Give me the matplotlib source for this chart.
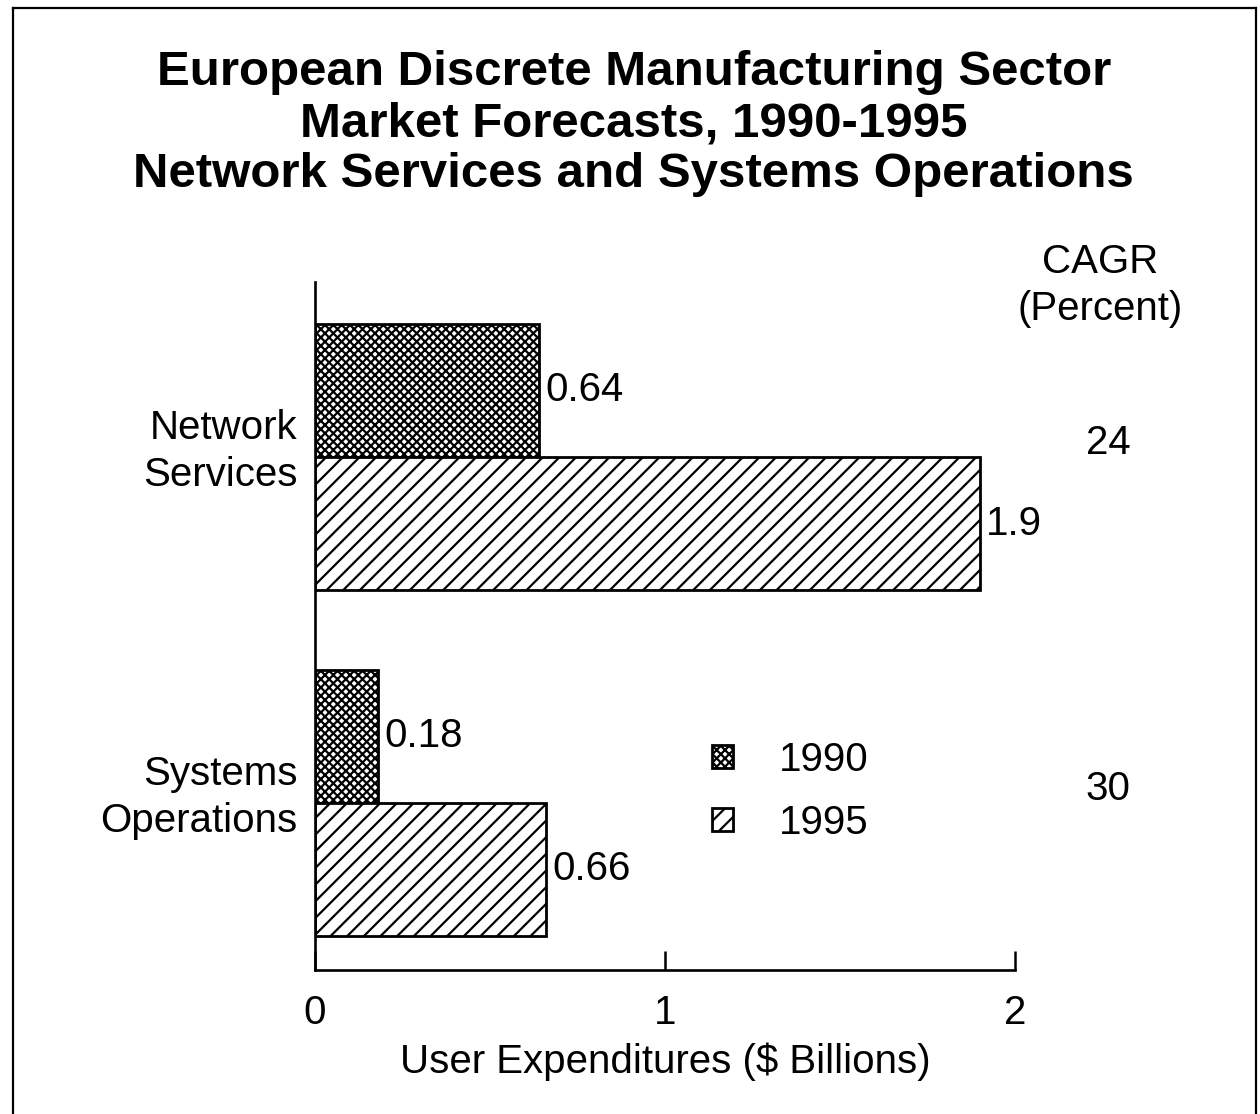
import numpy as np
import matplotlib.pyplot as plt

plt.rcParams['font.family'] = ['Liberation Sans', 'DejaVu Sans']
plt.rcParams['hatch.linewidth'] = 1.6
plt.rcParams['hatch.color'] = 'black'

# data
categories = ['Network\nServices', 'Systems\nOperations']
values_1990 = [0.64, 0.18]
values_1995 = [1.9, 0.66]
cagr = ['24', '30']
years = ['1990', '1995']

FS = 29

fig = plt.figure(figsize=(12.6, 11.14), dpi=100)
fig.patch.set_facecolor('white')

# frame round the whole chart (no bottom edge)
for xs, ys in [([0.0103, 0.0103], [0.0, 0.9928]),
               ([0.0103, 0.9968], [0.9928, 0.9928]),
               ([0.9968, 0.9968], [0.0, 0.9928])]:
    fig.add_artist(plt.Line2D(xs, ys, color='black', lw=1.6, transform=fig.transFigure))

ax = fig.add_axes([0.25, 0.1293, 0.5556, 0.6176])

y_centers = np.array([1.0, 0.0])
h = 0.385
b1 = ax.barh(y_centers + h / 2, values_1990, height=h, color='white', edgecolor='black',
             linewidth=2.0, hatch='xxxx', label=years[0])
b2 = ax.barh(y_centers - h / 2, values_1995, height=h, color='white', edgecolor='black',
             linewidth=2.0, hatch='//', label=years[1])

for y, v in zip(y_centers + h / 2, values_1990):
    ax.text(v + 0.018, y, f'{v:.2f}', va='center', ha='left', fontsize=FS)
for y, v in zip(y_centers - h / 2, values_1995):
    ax.text(v + 0.018, y, f'{v:g}' if v >= 1 else f'{v:.2f}', va='center', ha='left', fontsize=FS)

ax.set_xlim(0, 2)
ax.set_ylim(-0.483, 1.506)
ax.set_xticks([0, 1, 2])
ax.set_xticklabels(['0', '1', '2'], fontsize=FS)
ax.tick_params(axis='x', direction='in', length=14, width=1.8, pad=17)
ax.set_yticks([])
for s in ['top', 'right']:
    ax.spines[s].set_visible(False)
for s in ['left', 'bottom']:
    ax.spines[s].set_linewidth(1.9)
ax.set_xlabel('User Expenditures ($ Billions)', fontsize=FS, labelpad=8)

# category labels to the left of the axis
for y, c in zip(y_centers, categories):
    ax.text(-0.05, y + 0.017, c, ha='right', va='center', fontsize=FS, linespacing=1.3)

# CAGR column
ax.text(2.243, 1.497, 'CAGR\n(Percent)', ha='center', va='center', fontsize=FS,
        linespacing=1.3, clip_on=False)
for y, c in zip(y_centers, cagr):
    ax.text(2.266, y + 0.04, c, ha='center', va='center', fontsize=FS, clip_on=False)

leg = ax.legend(handles=[b1, b2], loc='center left', bbox_to_anchor=(0.567, 0.26),
                frameon=False, fontsize=FS, handlelength=0.52, handleheight=0.52,
                handletextpad=1.13, labelspacing=0.62, borderpad=0, borderaxespad=0)

fig.text(0.503, 0.889, 'European Discrete Manufacturing Sector\nMarket Forecasts, 1990-1995\n'
         'Network Services and Systems Operations', ha='center', va='center',
         fontsize=35.5, fontweight='bold', linespacing=1.17)

fig.savefig('out.png', dpi=100)
